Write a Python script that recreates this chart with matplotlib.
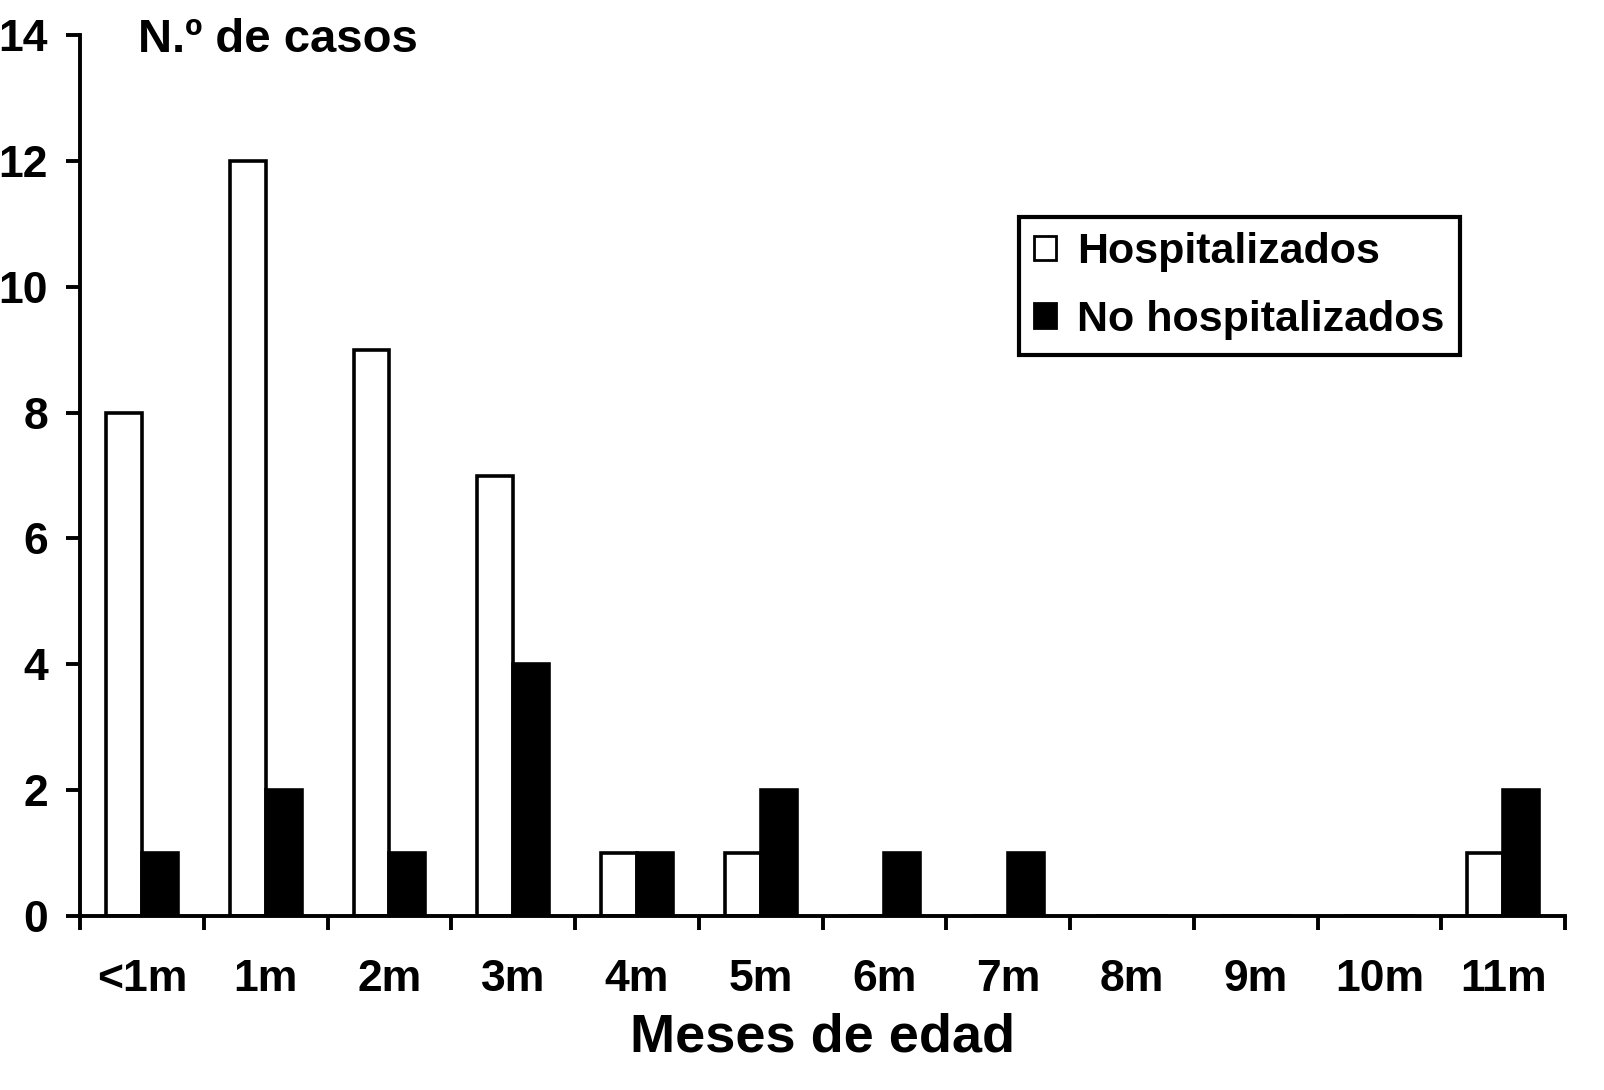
import matplotlib
matplotlib.use("Agg")
import matplotlib.pyplot as plt
import numpy as np

plt.rcParams['font.family'] = ['Liberation Sans', 'DejaVu Sans']
plt.rcParams['font.weight'] = 'bold'

meses = ['<1m', '1m', '2m', '3m', '4m', '5m', '6m', '7m', '8m', '9m', '10m', '11m']
hospitalizados = [8, 12, 9, 7, 1, 1, 0, 0, 0, 0, 0, 1]
no_hospitalizados = [1, 2, 1, 4, 1, 2, 1, 1, 0, 0, 0, 2]

fig = plt.figure(figsize=(16.04, 10.9), dpi=100)
ax = fig.add_axes([0.0499, 0.1596, 0.9258, 0.8083])

x = np.arange(len(meses))
w = 0.29
ax.bar(x - w / 2, hospitalizados, w, color='white', edgecolor='black',
       linewidth=2.6, label='Hospitalizados')
ax.bar(x + w / 2, no_hospitalizados, w, color='black', edgecolor='black',
       linewidth=2.6, label='No hospitalizados')

ax.set_xlim(-0.5, len(meses) - 0.5)
ax.set_ylim(0, 14)
ax.set_yticks(range(0, 15, 2))

# etiquetas en el centro, marcas en los límites de cada categoría
ax.set_xticks(x)
ax.set_xticklabels(meses)
ax.set_xticks(np.arange(-0.5, len(meses)), minor=True)
ax.tick_params(axis='x', which='major', length=0, pad=31, labelsize=32)
ax.tick_params(axis='x', which='minor', length=10, width=2.8, direction='out')
ax.tick_params(axis='y', length=10, width=2.8, direction='out', pad=13, labelsize=32)

for s in ['top', 'right']:
    ax.spines[s].set_visible(False)
for s in ['left', 'bottom']:
    ax.spines[s].set_linewidth(2.8)

ax.set_xlabel('Meses de edad', fontsize=39, fontweight='bold', labelpad=9)
fig.text(138 / 1604, 1 - 52 / 1090, 'N.º de casos', fontsize=34,
         fontweight='bold', ha='left', va='baseline')

leg = ax.legend(loc='upper left', bbox_to_anchor=(1019 / 1604, 1 - 217 / 1090),
                bbox_transform=fig.transFigure, fontsize=31, frameon=True,
                fancybox=False, edgecolor='black', framealpha=1,
                handlelength=0.5, handleheight=0.5, handletextpad=0.5,
                borderpad=0.35, labelspacing=0.65, borderaxespad=0)
leg.get_frame().set_linewidth(3)
for h in leg.legend_handles:
    h.set_linewidth(2)

fig.savefig('out.png', dpi=100)
